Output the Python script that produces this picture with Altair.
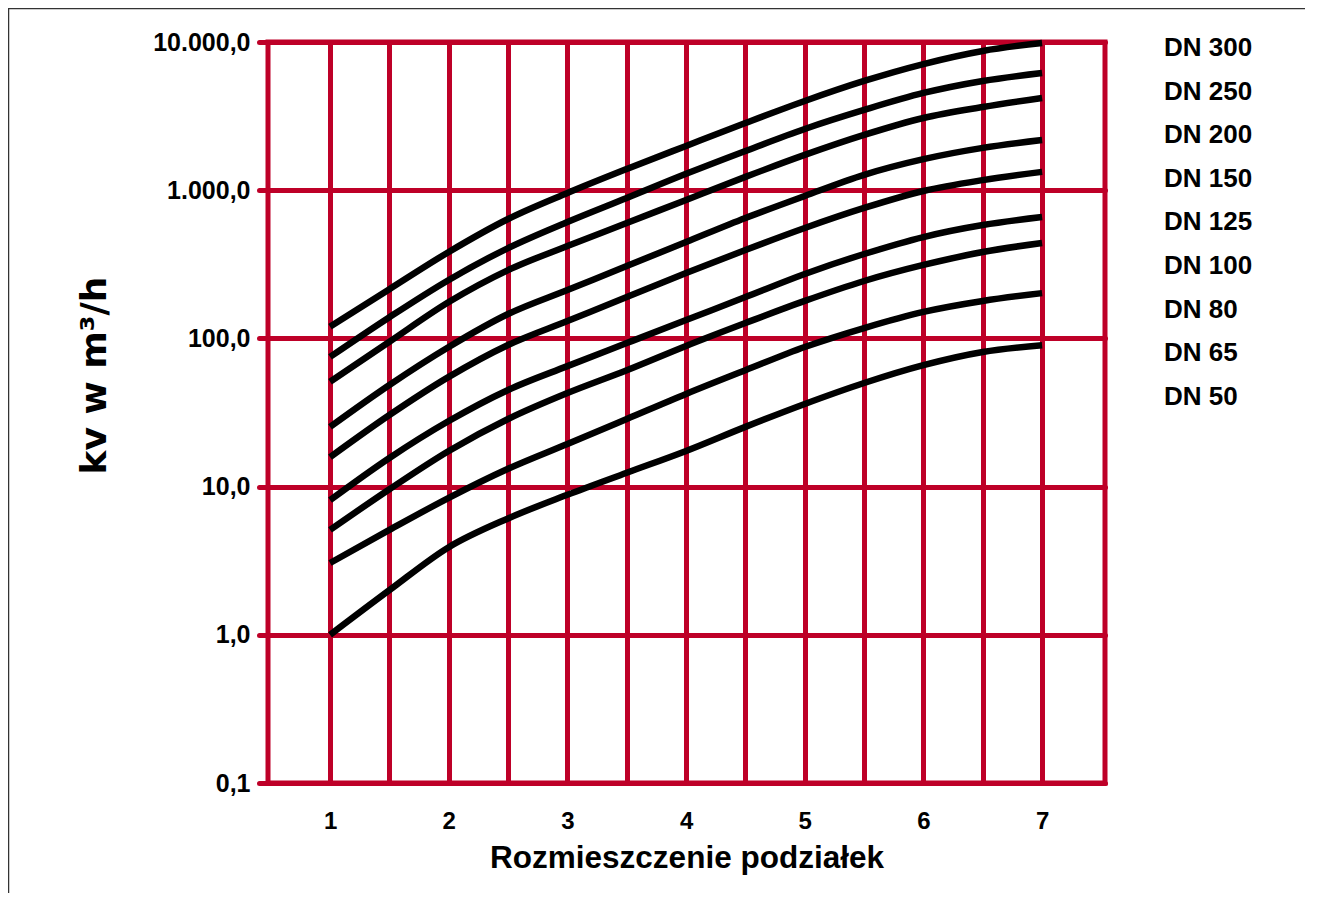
import altair as alt
import pandas as pd

# Positions on the x axis (Rozmieszczenie podziałek)
x_vals = [1, 1.5, 2, 2.5, 3, 3.5, 4, 4.5, 5, 5.5, 6, 6.5, 7]

series_names = ["DN 300", "DN 250", "DN 200", "DN 150", "DN 125",
                "DN 100", "DN 80", "DN 65", "DN 50"]

dn300 = [120, 215, 383, 639, 957, 1390, 1990, 2840, 4000, 5460, 7100, 8700, 9850]
dn250 = [75, 139, 248, 407, 610, 886, 1290, 1840, 2590, 3480, 4530, 5460, 6180]
dn200 = [51, 95, 176, 289, 420, 600, 860, 1230, 1730, 2360, 3070, 3640, 4190]
dn150 = [25.3, 48.5, 87.5, 146, 212, 308, 447, 649, 914, 1270, 1620, 1930, 2180]
dn125 = [15.8, 30.4, 55, 90.3, 131, 190, 276, 395, 556, 759, 988, 1170, 1330]
dn100 = [8.1, 15.6, 27.7, 44.9, 65, 93, 133, 190, 272, 371, 483, 582, 659]
dn80 = [5.1, 9.6, 17.4, 28.6, 42.8, 61, 89, 127, 179, 244, 313, 383, 440]
dn65 = [3.05, 5.1, 8.4, 13.2, 19.4, 28.6, 42.2, 61, 87.5, 117.5, 151, 179, 202]
dn50 = [1.0, 2.0, 3.9, 6.1, 8.8, 12.4, 17.4, 25.3, 36.1, 50, 66, 81, 90]

y_ticks = [0.1, 1, 10, 100, 1000, 10000]
x_grid = [1, 1.5, 2, 2.5, 3, 3.5, 4, 4.5, 5, 5.5, 6, 6.5, 7]

all_series = [dn300, dn250, dn200, dn150, dn125, dn100, dn80, dn65, dn50]
rows = []
for name, vals in zip(series_names, all_series):
    for xv, yv in zip(x_vals, vals):
        rows.append({"series": name, "x": xv, "kv": yv})
df = pd.DataFrame(rows)

RED = "#BE0028"
FONT = "Liberation Sans"

x_scale = alt.Scale(domain=[0.477, 7.53], nice=False, zero=False)
y_scale = alt.Scale(type="log", domain=[0.1, 10000], nice=False)

lines = alt.Chart(df).mark_line(
    strokeWidth=6.5, interpolate="monotone", strokeCap="butt", color="black"
).encode(
    x=alt.X("x:Q", scale=x_scale,
            axis=alt.Axis(values=x_grid, title="Rozmieszczenie podziałek",
                          labelExpr="datum.value % 1 == 0 ? format(datum.value, 'd') : ''",
                          ticks=False, domain=False, grid=True,
                          gridColor=RED, gridWidth=5, gridOpacity=1,
                          labelFont=FONT, labelFontWeight="bold", labelFontSize=24,
                          labelColor="black", labelPadding=26,
                          titleFont=FONT, titleFontWeight="bold", titleFontSize=31.5,
                          titleColor="black", titlePadding=9)),
    y=alt.Y("kv:Q", scale=y_scale,
            axis=alt.Axis(values=y_ticks, title="kv w m³/h",
                          labelExpr="replace(replace(replace(format(datum.value, ',.1f'), ',', '_'), '.', ','), '_', '.')",
                          ticks=True, tickColor=RED, tickWidth=5, tickSize=9, tickCap="round",
                          domain=False, grid=True,
                          gridColor=RED, gridWidth=5, gridOpacity=1, gridCap="round",
                          labelFont=FONT, labelFontWeight="bold", labelFontSize=25,
                          labelColor="black", labelPadding=9,
                          titleFont="DejaVu Sans", titleFontWeight="bold", titleFontSize=36,
                          titleColor="black", titleX=-174, titleY=333,
                          titleAlign="center", titleBaseline="middle", titleAngle=270)),
    detail="series:N",
    color=alt.Color("series:N", sort=series_names,
                    scale=alt.Scale(domain=series_names, range=["black"] * 9),
                    legend=alt.Legend(title=None, orient="none", legendX=870, legendY=-7,
                                      symbolSize=0, symbolOpacity=0, symbolStrokeWidth=0,
                                      labelOffset=0, labelFont=FONT, labelFontWeight="bold",
                                      labelFontSize=26, labelColor="black", rowPadding=17.6,
                                      labelLimit=0)),
)

frame_df = pd.DataFrame({"a": [0]})
frame_top = alt.Chart(frame_df).mark_rule(color="#333333", strokeWidth=1.5).encode(
    x=alt.value(-260), x2=alt.value(1040), y=alt.value(-33.5))
frame_left = alt.Chart(frame_df).mark_rule(color="#333333", strokeWidth=1.5).encode(
    x=alt.value(-259.5), y=alt.value(-34), y2=alt.value(860))

chart = alt.layer(lines, frame_top, frame_left).properties(
    width=837, height=741,
    autosize=alt.AutoSizeParams(type="none"),
    padding={"left": 260, "top": 34, "right": 200, "bottom": 110},
    background="white",
).configure_view(stroke=RED, strokeWidth=5)

chart.save("out.html", embed_options={"renderer": "svg", "actions": False})
